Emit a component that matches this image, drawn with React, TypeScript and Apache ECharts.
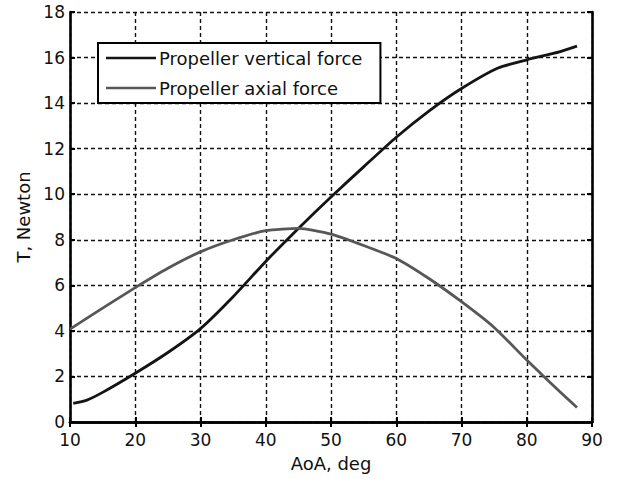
import React, { useEffect, useRef } from "react";
import * as echarts from "echarts";

// Angle of attack (deg) and propeller forces (N)
const verticalAoa = [10.5, 12.5, 15, 20, 25, 30, 35, 40, 45, 50, 55, 60, 65, 70, 75.6, 80, 85, 87.7];
const verticalForce = [0.82, 0.95, 1.3, 2.14, 3.05, 4.1, 5.5, 7.05, 8.5, 9.88, 11.2, 12.5, 13.65, 14.64, 15.54, 15.9, 16.25, 16.5];

const axialAoa = [10, 15, 20, 25, 30, 35, 40, 45, 50, 55, 60, 65, 70, 75, 80, 85, 87.7];
const axialForce = [4.08, 5.0, 5.9, 6.75, 7.47, 8.0, 8.4, 8.5, 8.25, 7.75, 7.18, 6.3, 5.28, 4.15, 2.72, 1.35, 0.64];

const seriesNames = ["Propeller vertical force", "Propeller axial force"];
const xName = "AoA, deg";
const yName = "T, Newton";

const FONT = "DejaVu Sans, Liberation Sans, Arial, sans-serif";

export default function App() {
  const ref = useRef<HTMLDivElement>(null);

  useEffect(() => {
    if (!ref.current) return;
    const chart = echarts.init(ref.current, undefined, { renderer: "svg" });

    const frameAxis = {
      axisLine: { show: true, lineStyle: { color: "#000", width: 2.6 } },
      axisTick: { show: true, inside: true, length: 5, lineStyle: { color: "#000", width: 2 } },
    };
    const gridLine = { show: true, lineStyle: { color: "#111", width: 1.4, type: [4, 3] as any } };

    chart.setOption({
      animation: false,
      backgroundColor: "#fff",
      grid: { left: 70, right: 26, top: 12, bottom: 57 },
      legend: {
        left: 98,
        top: 43,
        orient: "vertical",
        icon: "rect",
        itemWidth: 50,
        itemHeight: 2.6,
        itemGap: 12,
        padding: [6, 18, 6, 8],
        borderColor: "#000",
        borderWidth: 2,
        backgroundColor: "#fff",
        textStyle: { fontFamily: FONT, fontSize: 18, color: "#111", lineHeight: 18, padding: [0, 0, 0, -2] },
        data: seriesNames,
      },
      xAxis: [
        {
          type: "value",
          min: 10,
          max: 90,
          interval: 10,
          position: "bottom",
          name: xName,
          nameLocation: "middle",
          nameGap: 32,
          nameTextStyle: { fontFamily: FONT, fontSize: 18, color: "#111" },
          axisLabel: { fontFamily: FONT, fontSize: 17, color: "#111", margin: 9 },
          splitLine: gridLine,
          ...frameAxis,
        },
        {
          type: "value",
          min: 10,
          max: 90,
          interval: 10,
          position: "top",
          axisLabel: { show: false },
          splitLine: { show: false },
          ...frameAxis,
        },
      ],
      yAxis: [
        {
          type: "value",
          min: 0,
          max: 18,
          interval: 2,
          position: "left",
          name: yName,
          nameLocation: "middle",
          nameGap: 36,
          nameTextStyle: { fontFamily: FONT, fontSize: 18, color: "#111" },
          axisLabel: { fontFamily: FONT, fontSize: 17, color: "#111", margin: 5 },
          splitLine: gridLine,
          ...frameAxis,
        },
        {
          type: "value",
          min: 0,
          max: 18,
          interval: 2,
          position: "right",
          axisLabel: { show: false },
          splitLine: { show: false },
          ...frameAxis,
        },
      ],
      series: [
        {
          name: seriesNames[0],
          type: "line",
          xAxisIndex: 0,
          yAxisIndex: 0,
          symbol: "none",
          smooth: 0.2,
          color: "#141414",
          lineStyle: { color: "#141414", width: 2.8 },
          data: verticalAoa.map((a, i) => [a, verticalForce[i]]),
        },
        {
          name: seriesNames[1],
          type: "line",
          xAxisIndex: 0,
          yAxisIndex: 0,
          symbol: "none",
          smooth: 0.2,
          color: "#575757",
          lineStyle: { color: "#575757", width: 2.8 },
          data: axialAoa.map((a, i) => [a, axialForce[i]]),
        },
      ],
    });

    return () => chart.dispose();
  }, []);

  return (
    <div
      ref={ref}
      style={{ position: "fixed", left: 0, top: 0, width: 618, height: 479, background: "#fff" }}
    />
  );
}
